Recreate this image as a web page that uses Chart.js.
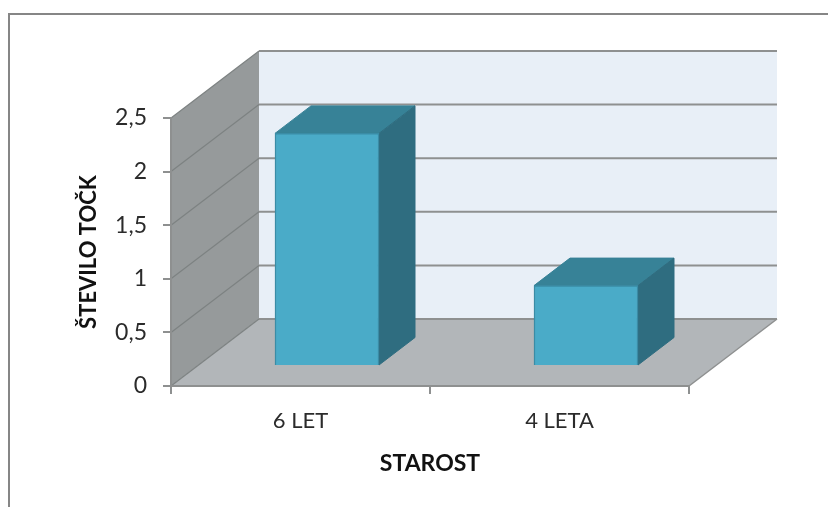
<!DOCTYPE html>
<html>
<head>
<meta charset="utf-8">
<style>
  html, body { margin: 0; padding: 0; background: #fff; }
  canvas { display: block; }
</style>
<script src="https://cdn.jsdelivr.net/npm/chart.js@4/dist/chart.umd.min.js"></script>
</head>
<body>
<canvas id="chart" width="828" height="507"></canvas>
<script>
// Data
const categories = ['6 LET', '4 LETA'];
const values = [2.17, 0.75];
const yTicks = [0, 0.5, 1, 1.5, 2, 2.5];
const yTickLabels = ['0', '0,5', '1', '1,5', '2', '2,5'];
const xTitle = 'STAROST';
const yTitle = 'ŠTEVILO TOČK';

// Look of the fake 3D box
const FONT = 'Lato, "Open Sans", sans-serif';
const LINE = '#8e9090';
const WALL_DEPTH = { x: 88, y: -67 };
const BAR_SHIFT = { x: 26.5, y: -20 };
const BAR_DEPTH = { x: 36, y: -27.5 };

function poly(ctx, pts, fill, stroke, lw) {
  ctx.beginPath();
  pts.forEach((p, i) => i ? ctx.lineTo(p[0], p[1]) : ctx.moveTo(p[0], p[1]));
  ctx.closePath();
  if (fill) { ctx.fillStyle = fill; ctx.fill(); }
  if (stroke) { ctx.strokeStyle = stroke; ctx.lineWidth = lw || 1; ctx.stroke(); }
}

const box3d = {
  id: 'box3d',
  beforeDraw(chart) {
    const { ctx, chartArea: a, scales } = chart;
    const dx = WALL_DEPTH.x, dy = WALL_DEPTH.y;

    // outer frame, runs off the right and bottom of the picture
    ctx.save();
    ctx.strokeStyle = '#868686';
    ctx.lineWidth = 2;
    ctx.beginPath();
    ctx.moveTo(9, 507);
    ctx.lineTo(9, 14);
    ctx.lineTo(828, 14);
    ctx.stroke();

    // back wall, side wall, floor
    poly(ctx, [[a.left + dx, a.top + dy], [a.right + dx, a.top + dy], [a.right + dx, a.bottom + dy], [a.left + dx, a.bottom + dy]], '#e8eff7');
    poly(ctx, [[a.left, a.top], [a.left + dx, a.top + dy], [a.left + dx, a.bottom + dy], [a.left, a.bottom]], '#969a9b');
    poly(ctx, [[a.left, a.bottom], [a.left + dx, a.bottom + dy], [a.right + dx, a.bottom + dy], [a.right, a.bottom]], '#b2b6b9');

    // gridlines go up the side wall and across the back
    yTicks.forEach(v => {
      const y = scales.y.getPixelForValue(v);
      ctx.strokeStyle = '#7d8282';
      ctx.lineWidth = 1.2;
      ctx.beginPath();
      ctx.moveTo(a.left, y);
      ctx.lineTo(a.left + dx, y + dy);
      ctx.stroke();
      ctx.strokeStyle = LINE;
      ctx.lineWidth = 2;
      ctx.beginPath();
      ctx.moveTo(a.left + dx, y + dy);
      ctx.lineTo(a.right + dx, y + dy);
      ctx.stroke();
    });

    ctx.lineWidth = 1.5;
    ctx.beginPath();
    ctx.moveTo(a.right, a.bottom);
    ctx.lineTo(a.right + dx, a.bottom + dy);
    ctx.stroke();
    ctx.restore();
  },
  beforeDatasetsDraw(chart) {
    const { ctx } = chart;
    ctx.save();
    // bars stand in the middle of the floor, not on its front edge
    ctx.translate(BAR_SHIFT.x, BAR_SHIFT.y);
    chart.getDatasetMeta(0).data.forEach(bar => {
      const l = bar.x - bar.width / 2, r = bar.x + bar.width / 2;
      const dx = BAR_DEPTH.x, dy = BAR_DEPTH.y;
      poly(ctx, [[l, bar.y], [l + dx, bar.y + dy], [r + dx, bar.y + dy], [r, bar.y]], '#378297', '#378297', 1);
      poly(ctx, [[r, bar.y], [r + dx, bar.y + dy], [r + dx, bar.base + dy], [r, bar.base]], '#2f6d80', '#2f6d80', 1);
    });
  },
  afterDatasetsDraw(chart) {
    chart.ctx.restore();
  }
};

new Chart(document.getElementById('chart'), {
  type: 'bar',
  data: {
    labels: categories,
    datasets: [{
      data: values,
      backgroundColor: '#4aabc8',
      borderColor: '#3a8ca6',
      borderWidth: 1.5,
      barThickness: 104,
      clip: false
    }]
  },
  plugins: [box3d],
  options: {
    responsive: false,
    animation: false,
    layout: { padding: { left: 76, right: 139, top: 118, bottom: 30 } },
    plugins: { legend: { display: false }, tooltip: { enabled: false } },
    scales: {
      x: {
        afterFit(s) { s.height = 91; },
        grid: { offset: true, drawOnChartArea: false, color: LINE, lineWidth: 2, tickLength: 8 },
        border: { color: LINE, width: 2 },
        ticks: { color: '#2b2b2b', font: { family: FONT, size: 22 }, padding: 14, maxRotation: 0 },
        title: { display: true, text: xTitle, color: '#111', font: { family: FONT, size: 23, weight: 'bold' }, padding: 0 }
      },
      y: {
        min: 0,
        max: 2.5,
        afterFit(s) { s.width = 95; },
        afterBuildTicks(s) { s.ticks = yTicks.map(v => ({ value: v })); },
        grid: { drawOnChartArea: false, color: LINE, lineWidth: 2, tickLength: 8 },
        border: { color: LINE, width: 2 },
        ticks: {
          color: '#2b2b2b',
          font: { family: FONT, size: 23 },
          padding: 16,
          callback: v => yTickLabels[yTicks.indexOf(v)]
        },
        title: { display: true, text: yTitle, color: '#111', font: { family: FONT, size: 22, weight: 'bold' }, padding: 0 }
      }
    }
  }
});
</script>
</body>
</html>
